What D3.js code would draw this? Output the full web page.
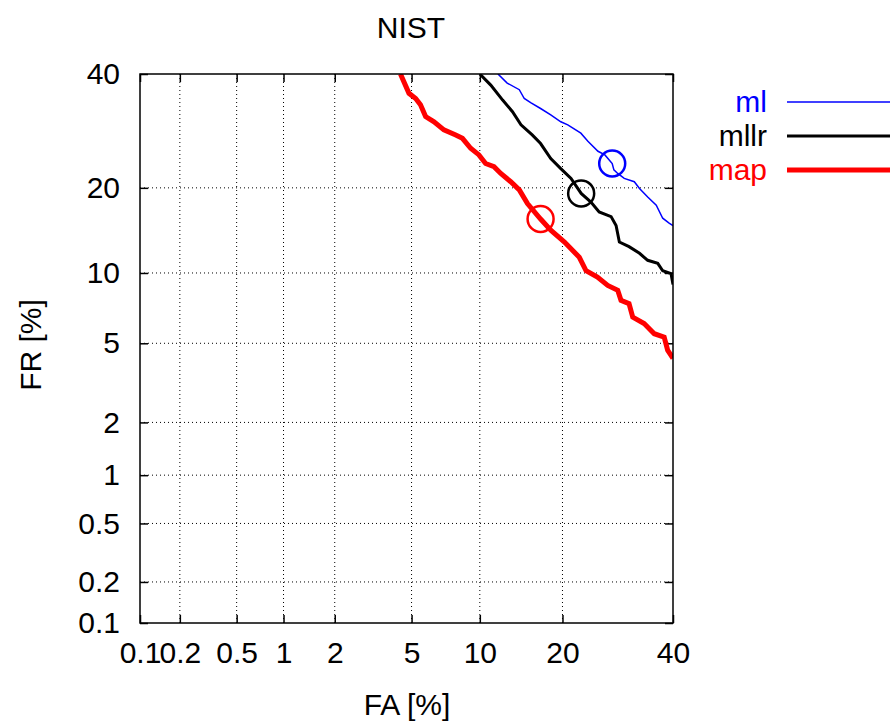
<script src="https://d3js.org/d3.v7.min.js"></script>

<style>
  body { margin: 0; background: #fff; }
  text { font-family: "Liberation Sans", Arial, sans-serif; }
</style>

<body>
  <svg id='svg'></svg>
</body>

<script>
  let width = 890;
  let height = 724;
  let fontSize = '30px';

  // axis ticks (percent)
  let tickVals = [0.1, 0.2, 0.5, 1, 2, 5, 10, 20, 40];
  let tickLabels = ['0.1', '0.2', '0.5', '1', '2', '5', '10', '20', '40'];

  // DET curves, FA / FR in percent
  let mlFA = [11.8, 12.8, 14.2, 14.8, 15.6, 16.9, 18.3, 19.75, 20.8, 22.85, 24.0, 25.7, 26.9, 28.2, 28.5, 29.2, 30.4, 32.3, 33.3, 34.9, 36.6, 37.9, 39.2, 40];
  let mlFR = [40, 38.2, 36.9, 35.2, 34.4, 33.3, 32.1, 30.85, 30.3, 28.8, 27.4, 25.7, 25.1, 23.7, 22.7, 22.15, 21.4, 20.9, 19.9, 18.7, 17.6, 15.9, 15.3, 15.0];

  let mllrFA = [10.0, 11.06, 12.3, 13.4, 14.4, 15.8, 16.9, 18.3, 19.75, 21.3, 22.9, 24.5, 25.9, 28.0, 28.9, 29.5, 31.3, 33.3, 34.9, 36.9, 37.9, 39.6, 40];
  let mllrFR = [40, 37.8, 34.9, 32.7, 30.3, 28.5, 27.0, 24.5, 22.9, 21.4, 19.2, 18.0, 16.7, 16.1, 15.0, 13.1, 12.6, 11.9, 11.2, 10.9, 10.2, 9.94, 9.0];

  let mapFA = [4.42, 4.86, 5.23, 5.51, 5.82, 6.36, 7.04, 7.93, 8.47, 9.17, 9.92, 10.55, 11.39, 12.1, 13.2, 14.2, 15.2, 16.9, 18.3, 20.3, 22.6, 23.7, 25.6, 27.4, 29.2, 29.8, 31.3, 32.0, 34.2, 36.2, 38.2, 38.9, 40];
  let mapFR = [40, 36.2, 35.2, 34.0, 31.8, 30.85, 29.4, 28.5, 27.9, 26.2, 25.1, 23.7, 23.2, 22.15, 20.9, 19.7, 17.8, 15.8, 14.45, 13.1, 11.5, 10.2, 9.63, 8.92, 8.52, 7.74, 7.49, 6.56, 6.14, 5.53, 5.34, 4.64, 4.25];

  // operating points (circles): ml, mllr, map
  let seriesNames = ['ml', 'mllr', 'map'];
  let opFA = [28.2, 22.9, 16.9];
  let opFR = [23.7, 19.2, 15.8];

  let colors = ['#0000ff', '#000000', '#ff0000'];
  let widths = [1.5, 3, 5];

  // inverse normal cdf (Acklam)
  function probit(p) {
    let a = [-39.69683028665376, 220.9460984245205, -275.9285104469687, 138.3577518672690, -30.66479806614716, 2.506628277459239];
    let b = [-54.47609879822406, 161.5858368580409, -155.6989798598866, 66.80131188771972, -13.28068155288572];
    let c = [-0.007784894002430293, -0.3223964580411365, -2.400758277161838, -2.549732539343734, 4.374664141464968, 2.938163982698783];
    let d = [0.007784695709041462, 0.3224671290700398, 2.445134137142996, 3.754408661907416];
    let pl = 0.02425, q, r;
    if (p < pl) {
      q = Math.sqrt(-2 * Math.log(p));
      return (((((c[0]*q+c[1])*q+c[2])*q+c[3])*q+c[4])*q+c[5]) / ((((d[0]*q+d[1])*q+d[2])*q+d[3])*q+1);
    } else if (p <= 1 - pl) {
      q = p - 0.5; r = q * q;
      return (((((a[0]*r+a[1])*r+a[2])*r+a[3])*r+a[4])*r+a[5])*q / (((((b[0]*r+b[1])*r+b[2])*r+b[3])*r+b[4])*r+1);
    } else {
      q = Math.sqrt(-2 * Math.log(1 - p));
      return -(((((c[0]*q+c[1])*q+c[2])*q+c[3])*q+c[4])*q+c[5]) / ((((d[0]*q+d[1])*q+d[2])*q+d[3])*q+1);
    }
  }

  let pLeft = 140, pRight = 673, pTop = 74, pBottom = 623;

  let x = d3.scaleLinear()
    .domain([probit(0.001), probit(0.4)])
    .range([pLeft, pRight]);
  let y = d3.scaleLinear()
    .domain([probit(0.001), probit(0.4)])
    .range([pBottom, pTop]);

  let px = v => x(probit(v / 100));
  let py = v => y(probit(v / 100));

  let svg = d3.select('#svg')
    .attr('width', width)
    .attr('height', height);

  svg.append('defs').append('clipPath').attr('id', 'clip')
    .append('rect')
    .attr('x', pLeft).attr('y', pTop)
    .attr('width', pRight - pLeft).attr('height', pBottom - pTop);

  // grid
  let inner = tickVals.slice(1, -1);
  svg.append('g').selectAll('line')
    .data(inner)
    .enter().append('line')
    .attr('x1', d => px(d)).attr('x2', d => px(d))
    .attr('y1', pTop).attr('y2', pBottom)
    .attr('stroke', '#000').attr('stroke-width', 1)
    .attr('stroke-dasharray', '1,3');
  svg.append('g').selectAll('line')
    .data(inner)
    .enter().append('line')
    .attr('y1', d => py(d)).attr('y2', d => py(d))
    .attr('x1', pLeft).attr('x2', pRight)
    .attr('stroke', '#000').attr('stroke-width', 1)
    .attr('stroke-dasharray', '1,3');

  let tv = tickVals.map(t => probit(t / 100));
  let fmt = (d, i) => tickLabels[i];

  function styleAxis(g) {
    g.select('.domain').remove();
    g.selectAll('.tick line').attr('stroke', '#000').attr('stroke-width', 1.5);
    g.selectAll('.tick text')
      .attr('fill', '#000')
      .style('font-size', fontSize)
      .style('font-family', '"Liberation Sans", Arial, sans-serif');
  }

  svg.append('g')
    .attr('transform', `translate(0,${pBottom})`)
    .call(d3.axisBottom(x).tickValues(tv).tickFormat(fmt).tickSize(-8).tickPadding(19))
    .call(styleAxis);
  svg.append('g')
    .attr('transform', `translate(0,${pTop})`)
    .call(d3.axisTop(x).tickValues(tv).tickFormat('').tickSize(-8))
    .call(styleAxis);
  svg.append('g')
    .attr('transform', `translate(${pLeft},0)`)
    .call(d3.axisLeft(y).tickValues(tv).tickFormat(fmt).tickSize(-8).tickPadding(20))
    .call(styleAxis);
  svg.append('g')
    .attr('transform', `translate(${pRight},0)`)
    .call(d3.axisRight(y).tickValues(tv).tickFormat('').tickSize(-8))
    .call(styleAxis);

  // curves
  let series = [
    { fa: mlFA, fr: mlFR },
    { fa: mllrFA, fr: mllrFR },
    { fa: mapFA, fr: mapFR }
  ];

  let line = d3.line()
    .x(d => px(d[0]))
    .y(d => py(d[1]));

  let curves = svg.append('g').attr('clip-path', 'url(#clip)');
  series.forEach((s, i) => {
    let pts = s.fa.map((v, j) => [v, s.fr[j]]);
    curves.append('path')
      .attr('d', line(pts))
      .attr('fill', 'none')
      .attr('stroke', colors[i])
      .attr('stroke-width', widths[i])
      .attr('stroke-linejoin', 'miter');
  });

  // operating point circles
  svg.append('g').selectAll('circle')
    .data(opFA)
    .enter().append('circle')
    .attr('cx', d => px(d))
    .attr('cy', (d, i) => py(opFR[i]))
    .attr('r', 13)
    .attr('fill', 'none')
    .attr('stroke', (d, i) => colors[i])
    .attr('stroke-width', 2.5);

  // frame
  svg.append('rect')
    .attr('x', pLeft).attr('y', pTop)
    .attr('width', pRight - pLeft).attr('height', pBottom - pTop)
    .attr('fill', 'none')
    .attr('stroke', '#000')
    .attr('stroke-width', 1.5);

  // titles
  svg.append('text')
    .attr('x', 411).attr('y', 38)
    .attr('text-anchor', 'middle')
    .style('font-size', fontSize)
    .text('NIST');
  svg.append('text')
    .attr('x', 407).attr('y', 715)
    .attr('text-anchor', 'middle')
    .style('font-size', fontSize)
    .text('FA [%]');
  svg.append('text')
    .attr('transform', 'translate(41,345) rotate(-90)')
    .attr('text-anchor', 'middle')
    .style('font-size', fontSize)
    .text('FR [%]');

  // legend
  let legend = svg.append('g');
  seriesNames.forEach((name, i) => {
    let ly = 102 + i * 34;
    legend.append('text')
      .attr('x', 767).attr('y', ly + 10)
      .attr('text-anchor', 'end')
      .attr('fill', colors[i])
      .style('font-size', fontSize)
      .text(name);
    legend.append('line')
      .attr('x1', 787).attr('x2', 892)
      .attr('y1', ly).attr('y2', ly)
      .attr('stroke', colors[i])
      .attr('stroke-width', widths[i]);
  });
</script>
